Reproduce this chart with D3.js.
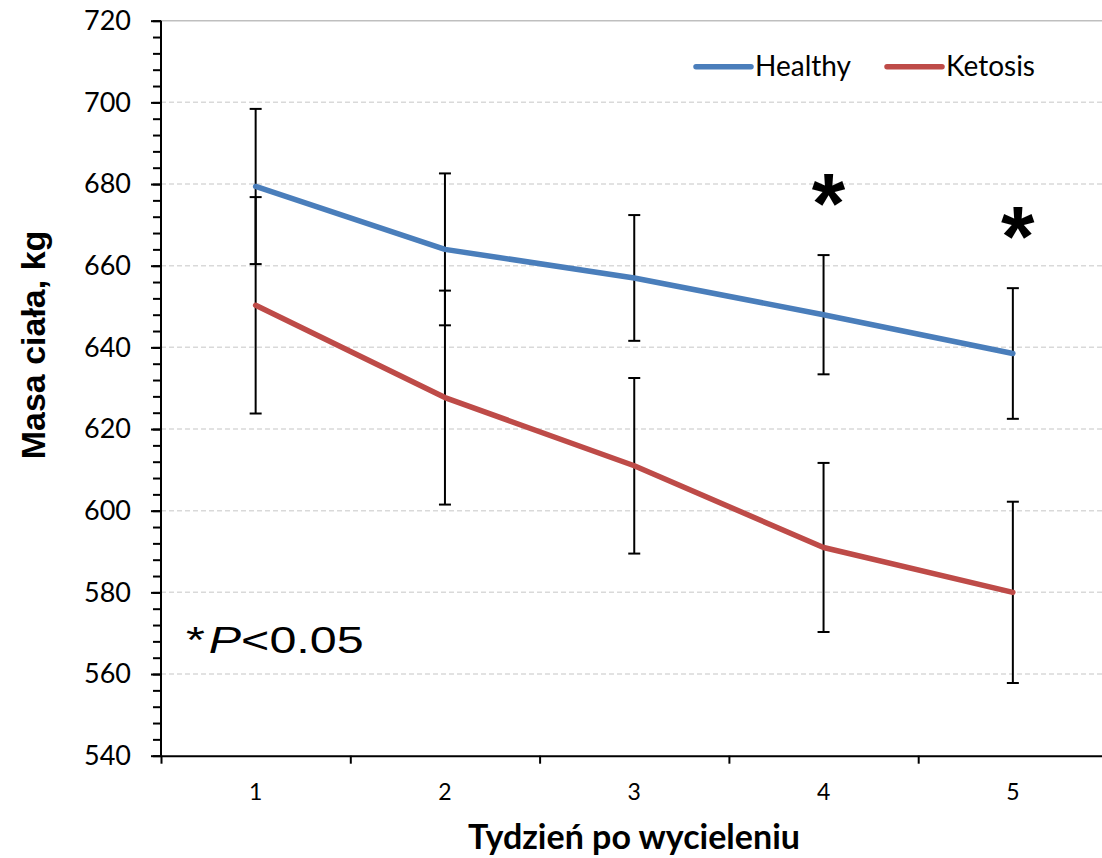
<!doctype html>
<html>
<head>
    <meta charset="UTF-8">
    <title>masa ciala</title>
    <script src="https://d3js.org/d3.v7.min.js"></script>
    <style>
        body{ margin:0; background:#fff; }
        text{ fill:#000; }
    </style>
</head>
<body>
  <svg width="1102" height="858" id="svg1"></svg>
  <script>
    // data
    var weeks = [1, 2, 3, 4, 5];
    var healthy = [679.4, 664, 657, 648, 638.5];
    var healthyErr = [19, 18.6, 15.4, 14.6, 16];
    var ketosis = [650.3, 627.7, 611, 591, 580];
    var ketosisErr = [26.5, 26.2, 21.5, 20.7, 22.2];
    var sigWeeks = [4, 5];
    var yTicks = [540, 560, 580, 600, 620, 640, 660, 680, 700, 720];
    var seriesNames = ["Healthy", "Ketosis"];
    var colors = ["#4a7ebb", "#be4b48"];

    var svg = d3.select("#svg1");
    var plotLeft = 161, plotTop = 20.7, plotBottom = 755.7, band = 189.3;

    var x = d3.scaleLinear().domain([0.5, 5.5]).range([plotLeft, plotLeft + 5 * band]);
    var y = d3.scaleLinear().domain([540, 720]).range([plotBottom, plotTop]);

    // gridlines
    svg.append("g").selectAll("line")
      .data(yTicks.slice(1))
      .enter().append("line")
      .attr("x1", plotLeft).attr("x2", 1102)
      .attr("y1", function(d){ return y(d); })
      .attr("y2", function(d){ return y(d); })
      .attr("stroke", function(d){ return d === 720 ? "#bfbfbf" : "#d9d9d9"; })
      .attr("stroke-width", 1.5)
      .attr("stroke-dasharray", function(d){ return d === 720 ? null : "5,3"; });

    // y axis: minor then major ticks
    var yMinor = svg.append("g").attr("transform", "translate(" + plotLeft + ",0)")
      .call(d3.axisLeft(y).tickValues(d3.range(540, 721, 4)).tickSize(8).tickFormat(""));
    var yAxis = svg.append("g").attr("transform", "translate(" + plotLeft + ",0)")
      .call(d3.axisLeft(y).tickValues(yTicks).tickSize(10).tickPadding(20));
    yAxis.selectAll("text")
      .attr("font-family", "Lato, 'Noto Sans', sans-serif")
      .attr("font-size", 27).attr("fill", "#000");
    [yMinor, yAxis].forEach(function(g){
      g.select(".domain").remove();
      g.selectAll("line").attr("stroke", "#000").attr("stroke-width", 2);
    });
    svg.append("line").attr("x1", plotLeft).attr("x2", plotLeft)
      .attr("y1", plotTop).attr("y2", plotBottom + 1)
      .attr("stroke", "#000").attr("stroke-width", 2);

    // x axis: ticks on band edges, labels at centres
    var xAxis = svg.append("g").attr("transform", "translate(0," + plotBottom + ")")
      .call(d3.axisBottom(x).tickValues([0.5, 1.5, 2.5, 3.5, 4.5]).tickSize(8).tickFormat("").tickSizeOuter(0));
    xAxis.select(".domain").attr("stroke", "#000").attr("stroke-width", 2);
    xAxis.selectAll("line").attr("stroke", "#000").attr("stroke-width", 2);
    svg.append("g").selectAll("text")
      .data(weeks)
      .enter().append("text")
      .attr("x", function(d){ return x(d); })
      .attr("y", 800)
      .attr("text-anchor", "middle")
      .attr("font-family", "Lato, 'Noto Sans', sans-serif")
      .attr("font-size", 23)
      .text(function(d){ return d; });

    // axis titles
    svg.append("text")
      .attr("x", 634).attr("y", 849)
      .attr("text-anchor", "middle")
      .attr("font-family", "Lato, 'Noto Sans', sans-serif")
      .attr("font-weight", "bold").attr("font-size", 34)
      .text("Tydzień po wycieleniu");
    svg.append("text")
      .attr("transform", "translate(45,345) rotate(-90)")
      .attr("text-anchor", "middle")
      .attr("font-family", "'Liberation Sans', Arial, sans-serif")
      .attr("font-weight", "bold").attr("font-size", 34)
      .text("Masa ciała, kg");

    // error bars
    function errBars(vals, errs){
      var g = svg.append("g").attr("stroke", "#000").attr("stroke-width", 2);
      weeks.forEach(function(w, i){
        var cx = x(w);
        g.append("line").attr("x1", cx).attr("x2", cx)
          .attr("y1", y(vals[i] + errs[i])).attr("y2", y(vals[i] - errs[i]));
        [vals[i] + errs[i], vals[i] - errs[i]].forEach(function(v){
          g.append("line").attr("x1", cx - 6).attr("x2", cx + 6)
            .attr("y1", y(v)).attr("y2", y(v));
        });
      });
    }
    errBars(healthy, healthyErr);
    errBars(ketosis, ketosisErr);

    // lines
    var line = d3.line()
      .x(function(d, i){ return x(weeks[i]); })
      .y(function(d){ return y(d); });
    [healthy, ketosis].forEach(function(s, k){
      svg.append("path").datum(s)
        .attr("d", line)
        .attr("fill", "none")
        .attr("stroke", colors[k])
        .attr("stroke-width", 5.5)
        .attr("stroke-linecap", "round")
        .attr("stroke-linejoin", "round");
    });

    // significance stars
    svg.append("g").selectAll("text")
      .data(sigWeeks)
      .enter().append("text")
      .attr("x", function(d){ return x(d) + 5; })
      .attr("y", function(d){
        var i = weeks.indexOf(d);
        return y(healthy[i] + healthyErr[i] + 15.5) + 41;
      })
      .attr("text-anchor", "middle")
      .attr("font-family", "'Liberation Sans', Arial, sans-serif")
      .attr("font-weight", "bold").attr("font-size", 86)
      .attr("fill", "#231f20")
      .text("*");

    // p value note
    var note = svg.append("text")
      .attr("transform", "translate(186,653) scale(1.31,1)")
      .attr("font-family", "'Liberation Sans', Arial, sans-serif")
      .attr("font-size", 37).attr("fill", "#231f20");
    note.append("tspan").text("*");
    note.append("tspan").attr("font-style", "italic").attr("dx", 3).text("P");
    note.append("tspan").text("<0.05");

    // legend
    var legX = [696, 887];
    seriesNames.forEach(function(n, k){
      svg.append("line")
        .attr("x1", legX[k]).attr("x2", legX[k] + 55)
        .attr("y1", 66.7).attr("y2", 66.7)
        .attr("stroke", colors[k]).attr("stroke-width", 5.5)
        .attr("stroke-linecap", "round");
      svg.append("text")
        .attr("x", legX[k] + 59).attr("y", 76)
        .attr("font-family", "Lato, 'Noto Sans', sans-serif")
        .attr("font-size", 28)
        .text(n);
    });
  </script>
</body>
</html>
